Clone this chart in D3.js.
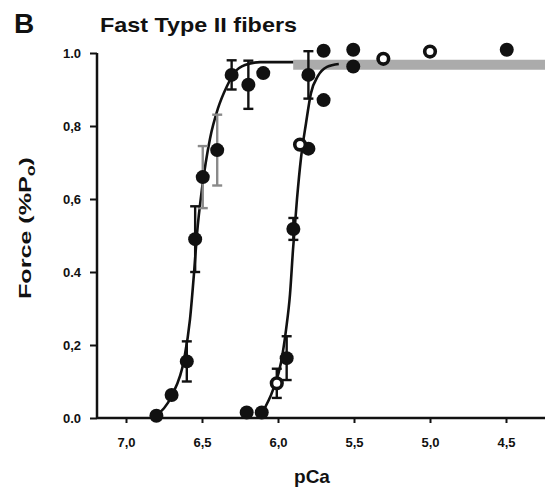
<!DOCTYPE html>
<html>
<head>
<meta charset="utf-8">
<script src="https://cdn.jsdelivr.net/npm/d3@7"></script>
<style>
  html, body { margin: 0; padding: 0; background: #fff; }
  svg { display: block; }
  text { font-family: "Liberation Sans", Arial, sans-serif; font-weight: bold; fill: #111; }
</style>
</head>
<body>
<svg id="chart" width="545" height="488"></svg>
<script>
// pCa ticks (axis runs from low to high calcium, i.e. reversed pCa)
const xTicks = [7.0, 6.5, 6.0, 5.5, 5.0, 4.5];
const xTickLabels = ["7,0", "6,5", "6,0", "5,5", "5,0", "4,5"];
const yTicks = [0.0, 0.2, 0.4, 0.6, 0.8, 1.0];
const yTickLabels = ["0.0", "0,2", "0.4", "0,6", "0,8", "1.0"];

// Left curve, filled circles: [pCa, force, SEM]
const leftFilled = [
  [6.80, 0.006, 0], [6.70, 0.063, 0], [6.60, 0.155, 0.055], [6.545, 0.49, 0.09],
  [6.495, 0.66, 0], [6.40, 0.734, 0], [6.305, 0.94, 0.04], [6.195, 0.913, 0.066],
  [6.097, 0.945, 0]
];
// Left curve SEM bars printed in halftone: [pCa, force, SEM]
const leftFaintSem = [[6.495, 0.66, 0.085], [6.40, 0.734, 0.097]];

// Right curve, filled circles: [pCa, force, SEM]
const rightFilled = [
  [6.206, 0.015, 0], [6.107, 0.015, 0], [5.943, 0.164, 0.06], [5.899, 0.518, 0.03],
  [5.80, 0.738, 0], [5.80, 0.94, 0.065], [5.70, 0.871, 0], [5.70, 1.006, 0],
  [5.505, 1.009, 0], [5.505, 0.963, 0], [4.495, 1.009, 0]
];
// Right curve, open circles: [pCa, force, SEM]
const rightOpen = [
  [6.008, 0.095, 0.04], [5.855, 0.749, 0], [5.307, 0.984, 0], [5.00, 1.004, 0]
];

// Fitted curves: [pCa, force]
const leftFit = [
  [6.803, 0.006], [6.697, 0.063], [6.618, 0.16], [6.579, 0.27], [6.553, 0.394],
  [6.533, 0.504], [6.50, 0.628], [6.447, 0.766], [6.395, 0.848], [6.336, 0.909],
  [6.283, 0.948], [6.217, 0.967], [6.118, 0.975], [5.90, 0.975]
];
const rightFit = [
  [6.105, 0.014], [6.033, 0.077], [5.98, 0.152], [5.947, 0.242], [5.921, 0.339],
  [5.901, 0.463], [5.875, 0.60], [5.849, 0.711], [5.816, 0.807], [5.783, 0.89],
  [5.737, 0.937], [5.678, 0.962], [5.60, 0.970]
];
// Shared maximal-force plateau band: [pCa, force]
const plateauBand = [[5.90, 0.968], [4.243, 0.968]];

const svg = d3.select("#chart");
const ink = "#111";

const x = d3.scaleLinear().domain([7.0, 4.5]).range([126, 506]);
const y = d3.scaleLinear().domain([0, 1]).range([418, 53]);
const xLeft = 97, xRight = 545;

// Axes
const xAxis = d3.axisBottom(x).tickValues(xTicks).tickSize(5).tickFormat((d, i) => xTickLabels[i]);
const gx = svg.append("g").attr("transform", `translate(0,${y(0)})`).call(xAxis);
gx.select(".domain").remove();
gx.append("line").attr("x1", xLeft).attr("x2", xRight).attr("y1", 0).attr("y2", 0)
  .attr("stroke", ink).attr("stroke-width", 2.5);
gx.selectAll(".tick line").attr("stroke", ink).attr("stroke-width", 2);
gx.selectAll(".tick text").attr("y", 20).attr("font-size", 13).attr("fill", ink)
  .style("font-weight", "bold");

const yAxis = d3.axisLeft(y).tickValues(yTicks).tickSize(7).tickFormat((d, i) => yTickLabels[i]);
const gy = svg.append("g").attr("transform", `translate(${xLeft},0)`).call(yAxis);
gy.select(".domain").remove();
gy.append("line").attr("x1", 0).attr("x2", 0).attr("y1", y(1)).attr("y2", y(0))
  .attr("stroke", ink).attr("stroke-width", 2.5);
gy.selectAll(".tick line").attr("stroke", ink).attr("stroke-width", 2);
gy.selectAll(".tick text").attr("x", -16).attr("font-size", 13).attr("fill", ink)
  .style("font-weight", "bold");

// Titles
svg.append("text").attr("x", 14).attr("y", 33).attr("font-size", 28).text("B");
svg.append("text").attr("x", 100).attr("y", 32).attr("font-size", 21)
  .attr("textLength", 197).attr("lengthAdjust", "spacingAndGlyphs").text("Fast Type II fibers");
svg.append("text").attr("x", 312).attr("y", 483).attr("text-anchor", "middle")
  .attr("font-size", 19).text("pCa");
const yt = svg.append("text").attr("transform", "translate(31,228) rotate(-90)")
  .attr("text-anchor", "middle").attr("font-size", 17)
  .attr("textLength", 142).attr("lengthAdjust", "spacingAndGlyphs");
yt.append("tspan").text("Force (%P");
yt.append("tspan").attr("font-size", 12).attr("dy", 4).text("o");
yt.append("tspan").attr("dy", -4).text(")");

// Plateau band
const line = d3.line().x(d => x(d[0])).y(d => y(d[1])).curve(d3.curveMonotoneX);
svg.append("path").datum(plateauBand).attr("d", line)
  .attr("fill", "none").attr("stroke", "#ababab").attr("stroke-width", 10);

// Fitted curves
[leftFit, rightFit].forEach(f => {
  svg.append("path").datum(f).attr("d", line)
    .attr("fill", "none").attr("stroke", ink).attr("stroke-width", 2.6);
});

// Error bars
function errorBars(data, color) {
  const g = svg.append("g").attr("stroke", color).attr("stroke-width", 2.4);
  data.filter(d => d[2] > 0).forEach(d => {
    const cx = x(d[0]), y1 = y(d[1] + d[2]), y2 = y(d[1] - d[2]);
    g.append("line").attr("x1", cx).attr("x2", cx).attr("y1", y1).attr("y2", y2);
    g.append("line").attr("x1", cx - 5).attr("x2", cx + 5).attr("y1", y1).attr("y2", y1);
    g.append("line").attr("x1", cx - 5).attr("x2", cx + 5).attr("y1", y2).attr("y2", y2);
  });
}
errorBars(leftFaintSem, "#8a8a8a");
errorBars(leftFilled, ink);
errorBars(rightFilled, ink);
errorBars(rightOpen, ink);

// Markers
svg.append("g").selectAll("circle").data(leftFilled.concat(rightFilled)).join("circle")
  .attr("cx", d => x(d[0])).attr("cy", d => y(d[1])).attr("r", 7).attr("fill", ink);
svg.append("g").selectAll("circle").data(rightOpen).join("circle")
  .attr("cx", d => x(d[0])).attr("cy", d => y(d[1])).attr("r", 5.3)
  .attr("fill", "#fff").attr("stroke", ink).attr("stroke-width", 3.6);
</script>
</body>
</html>
